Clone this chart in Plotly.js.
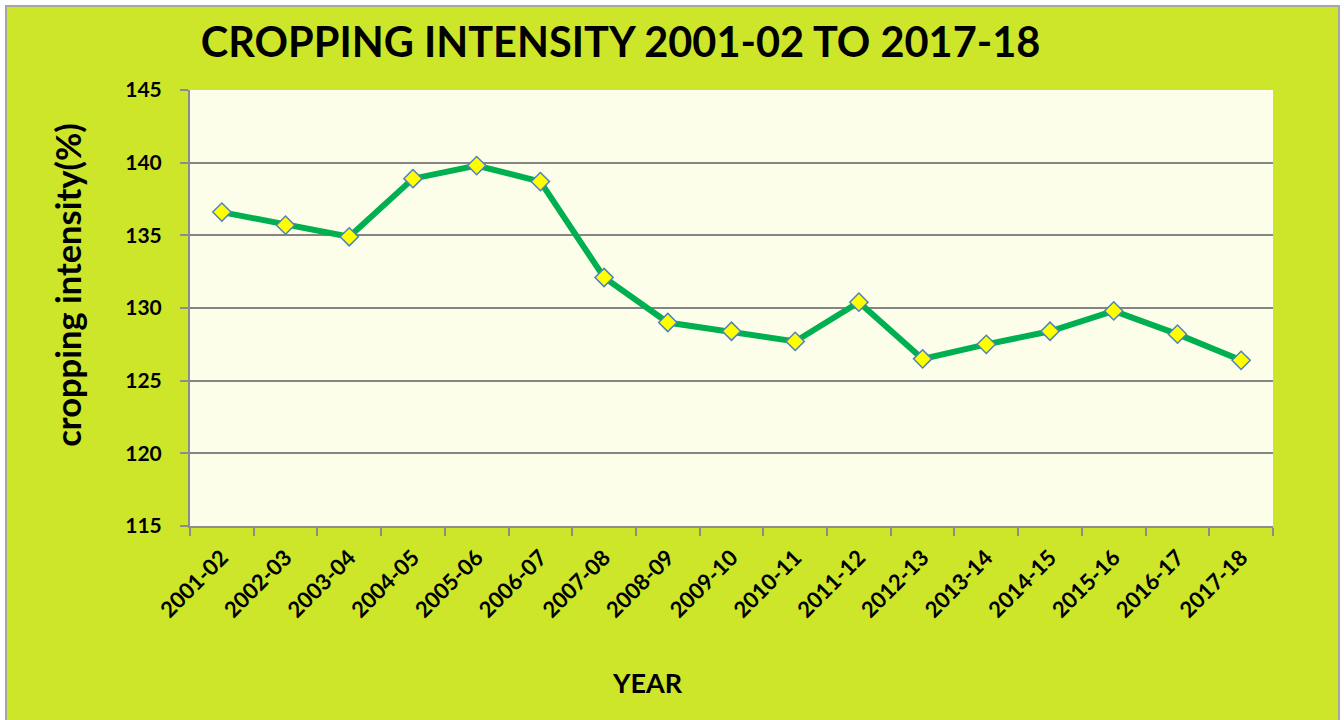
<!DOCTYPE html>
<html>
<head>
<meta charset="utf-8">
<script src="https://cdn.plot.ly/plotly-3.0.1.min.js"></script>
<style>
  html, body { margin: 0; padding: 0; background: #ffffff; overflow: hidden; }
  #frame { position: absolute; left: 5px; top: 5px; width: 1331px; height: 720px;
           border-left: 2px solid #a6a6a6; border-top: 2px solid #a6a6a6; border-right: 2px solid #a6a6a6;
           background: #cde62a; }
  #chart { width: 1331px; height: 713px; }
</style>
</head>
<body>
<div id="frame"><div id="chart"></div></div>
<script>
const years = ["2001-02","2002-03","2003-04","2004-05","2005-06","2006-07","2007-08","2008-09","2009-10","2010-11","2011-12","2012-13","2013-14","2014-15","2015-16","2016-17","2017-18"];
const intensity = [136.6,135.7,134.9,138.9,139.8,138.7,132.1,129.0,128.4,127.7,130.4,126.5,127.5,128.4,129.8,128.2,126.4];
const yTicks = [115,120,125,130,135,140,145];

const FONT = 'Lato, "Open Sans", sans-serif';

const trace = {
  x: years, y: intensity, type: 'scatter', mode: 'lines+markers',
  line: { color: '#00b050', width: 6 },
  marker: { symbol: 'diamond', size: 14, color: '#ffff00', line: { color: '#4f81bd', width: 1.5 } },
  hoverinfo: 'x+y'
};

const layout = {
  width: 1331, height: 713,
  margin: { l: 183, r: 65, t: 83, b: 194 },
  paper_bgcolor: '#cde62a',
  plot_bgcolor: '#fdfee9',
  showlegend: false,
  font: { family: FONT, color: '#000000' },
  title: { text: '<b>CROPPING INTENSITY 2001-02 TO 2017-18</b>', xref: 'container', yref: 'container',
           x: 0.461, xanchor: 'center', y: 0.95, yanchor: 'middle',
           font: { family: FONT, size: 41.5, color: '#000000' } },
  xaxis: {
    type: 'category', range: [-0.5, 16.5], tickangle: -45,
    tickson: 'boundaries', ticks: 'outside', ticklen: 8, tickcolor: '#8c8c8c', tickwidth: 2,
    ticklabelstandoff: 8,
    showline: true, linecolor: '#8c8c8c', linewidth: 2, showgrid: false, zeroline: false,
    tickfont: { family: FONT, size: 22, color: '#000000', weight: 'bold' }
  },
  yaxis: {
    range: [115, 145], tickvals: yTicks, ticktext: yTicks.map(String),
    ticks: 'outside', ticklen: 8, tickcolor: '#8c8c8c', tickwidth: 2, ticklabelstandoff: 14,
    showline: true, linecolor: '#8c8c8c', linewidth: 2,
    showgrid: true, gridcolor: '#858585', gridwidth: 2, zeroline: false,
    tickfont: { family: FONT, size: 21, color: '#000000', weight: 'bold' }
  },
  annotations: [
    { text: '<b>cropping intensity(%)</b>', xref: 'paper', yref: 'paper', x: -0.1127, y: 0.553,
      xanchor: 'center', yanchor: 'middle', textangle: -90, showarrow: false,
      font: { family: FONT, size: 34.5, color: '#000000' } },
    { text: '<b>YEAR</b>', xref: 'paper', yref: 'paper', x: 0.422, y: -0.358,
      xanchor: 'center', yanchor: 'middle', showarrow: false,
      font: { family: FONT, size: 27, color: '#000000' } }
  ]
};

Plotly.newPlot('chart', [trace], layout, { displayModeBar: false, staticPlot: true });
</script>
</body>
</html>
